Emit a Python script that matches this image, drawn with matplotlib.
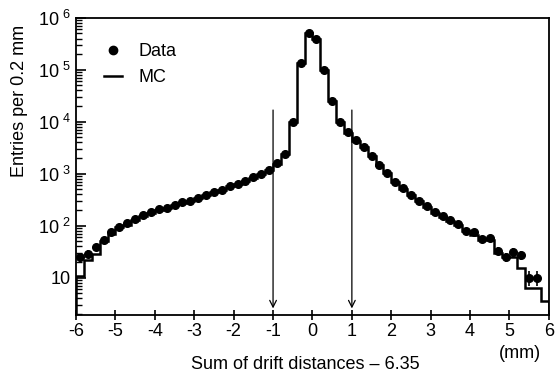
import numpy as np
import matplotlib
matplotlib.use("Agg")
import matplotlib.pyplot as plt
from matplotlib.lines import Line2D
from matplotlib.ticker import FixedLocator, LogLocator, NullFormatter

plt.rcParams['font.family'] = ['Liberation Sans', 'DejaVu Sans']
plt.rcParams['mathtext.fontset'] = 'custom'
plt.rcParams['mathtext.rm'] = 'Liberation Sans'

# bin edges: -6 .. 6 in steps of 0.2 mm
edges = np.linspace(-6, 6, 61)
centers = 0.5 * (edges[:-1] + edges[1:])

# data counts per bin
data_counts = [
    25, 29, 38, 52, 75, 96, 110, 135, 160, 180,
    205, 215, 250, 285, 300, 340, 390, 450, 480, 580,
    640, 730, 850, 1000, 1180, 1600, 2350, 9900, 1.33e5, 5.1e5,
    3.9e5, 1.0e5, 2.5e4, 1.0e4, 6300, 4400, 3300, 2200, 1500, 1050,
    700, 520, 390, 300, 235, 180, 150, 128, 107, 80,
    75, 56, 58, 33, 25, 31, 27, 10, 10, np.nan,
]

# MC histogram per bin
mc_counts = [
    10.7, 21.5, 28, 50, 70, 92, 105, 130, 155, 175,
    200, 215, 245, 275, 300, 335, 385, 440, 480, 570,
    630, 720, 840, 990, 1200, 1550, 2400, 1.0e4, 1.35e5, 5.2e5,
    4.0e5, 1.0e5, 2.5e4, 1.0e4, 6200, 4300, 3200, 2200, 1480, 1030,
    690, 510, 385, 295, 230, 178, 148, 125, 103, 80,
    65, 52, 52, 30, 25, 25, 15, 6.3, 6.3, 3.5,
]

cut_positions = [-1, 1]
x_ticks = list(range(-6, 7))
y_ticks = [10, 1e2, 1e3, 1e4, 1e5, 1e6]
y_tick_labels = ['10', r'$\mathregular{10^{\ 2}}$', r'$\mathregular{10^{\ 3}}$',
                 r'$\mathregular{10^{\ 4}}$', r'$\mathregular{10^{\ 5}}$',
                 r'$\mathregular{10^{\ 6}}$']

fig = plt.figure(figsize=(5.55, 3.8), dpi=100)
ax = fig.add_axes([0.137, 0.171, 0.852, 0.782])

data = np.array(data_counts, dtype=float)
mc = np.array(mc_counts, dtype=float)

ax.stairs(mc, edges, baseline=1.0, color='black', lw=1.8)
ax.errorbar(centers, data, yerr=np.sqrt(data), fmt='o', color='black',
            ms=5.5, elinewidth=1.2, capsize=0)

for xc in cut_positions:
    ax.annotate('', xy=(xc, 2.25), xytext=(xc, 1.9e4),
                arrowprops=dict(arrowstyle='->', color='black', lw=0.9,
                                mutation_scale=12))

ax.set_yscale('log')
ax.set_xlim(-6, 6)
ax.set_ylim(1.9, 1e6)

ax.xaxis.set_major_locator(FixedLocator(x_ticks))
ax.set_xticklabels([str(t) for t in x_ticks])
ax.yaxis.set_major_locator(FixedLocator(y_ticks))
ax.set_yticklabels(y_tick_labels)
ax.yaxis.set_minor_locator(LogLocator(base=10, subs=np.arange(2, 10)))
ax.yaxis.set_minor_formatter(NullFormatter())

ax.tick_params(axis='x', which='major', direction='inout', length=7,
               width=1.2, labelsize=13, pad=2)
ax.tick_params(axis='y', which='major', direction='in', length=7,
               width=1.2, labelsize=13)
ax.tick_params(axis='y', which='minor', direction='in', length=4, width=1)
ax.tick_params(top=False, right=False)
for s in ax.spines.values():
    s.set_linewidth(1.3)

h_data = Line2D([], [], ls='none', marker='o', ms=6, color='black')
h_mc = Line2D([], [], color='black', lw=1.8)
ax.legend([h_data, h_mc], ['Data', 'MC'], loc='upper left',
          bbox_to_anchor=(0.025, 0.97), frameon=False, fontsize=13,
          handlelength=1.0, handletextpad=0.9, labelspacing=0.5)

fig.text(0.035, 0.735, 'Entries per 0.2 mm', rotation=90, ha='center',
         va='center', fontsize=13)
fig.text(0.55, 0.04, 'Sum of drift distances \u2013 6.35', ha='center',
         va='center', fontsize=13)
fig.text(0.937, 0.07, '(mm)', ha='center', va='center', fontsize=13)

fig.savefig('out.png', dpi=100)
